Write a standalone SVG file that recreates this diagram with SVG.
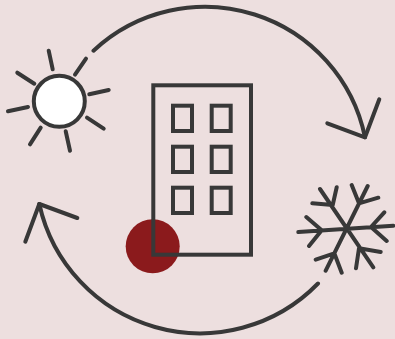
<svg xmlns="http://www.w3.org/2000/svg" width="395" height="339" viewBox="0 0 395 339">
<style>
.l{fill:none;stroke:#383838;stroke-width:4;stroke-linecap:round;stroke-linejoin:round}
.w{fill:none;stroke:#383838;stroke-width:4}
</style>
<rect width="395" height="339" fill="#eddfdf"/>
<g id="connectors">
<path class="l" d="M93.500 50.700A163.400 163.400 0 0 1 365 137.300"/>
<path class="l" d="M327.300 123.300L365 137.300L379.300 99.300"/>
<path class="l" d="M318 283.500A164.600 164.600 0 0 1 39.300 204"/>
<path class="l" d="M25.300 241.700L39.300 204L77.300 218"/>
</g>
<g id="sun">
<circle cx="59.300" cy="101.300" r="25.500" fill="#fff" stroke="#383838" stroke-width="4"/>
<path class="l" d="M48.700 50.700L52.700 69.300M86 58.700L75 74.700M17.300 72.700L34.300 83.700M108.700 90L89.300 94.300M8 111.300L28 107M87 117.700L103.700 128.700M40.700 127.700L30 144.300M65.700 131.300L70 150.700"/>
</g>
<g id="snowflake">
<path class="l" d="M298.300 232L393.300 225.700M320 189L373.300 267.300M367.700 186L325.700 270.700M306.300 217L321.700 230.300L309 246M384.300 212.300L371 227L386.700 241M336.700 187.300L332.700 205L312.300 203.300M351.700 185L359 203.300L378.300 197.700M356 268.300L359 248.300L380.700 252M315.700 259.700L334.300 253.300L341.700 272.700"/>
</g>
<g id="building">
<circle cx="152.700" cy="246.300" r="27" fill="#8b1a1c"/>
<rect class="w" x="153.300" y="85.300" width="97.700" height="169.400"/>
<rect class="w" x="173" y="105.700" width="19" height="25.300"/>
<rect class="w" x="211.700" y="105.700" width="19" height="25.300"/>
<rect class="w" x="173" y="146.700" width="19" height="25.300"/>
<rect class="w" x="211.700" y="146.700" width="19" height="25.300"/>
<rect class="w" x="173" y="187.700" width="19" height="25.300"/>
<rect class="w" x="211.700" y="187.700" width="19" height="25.300"/>
</g>
</svg>
